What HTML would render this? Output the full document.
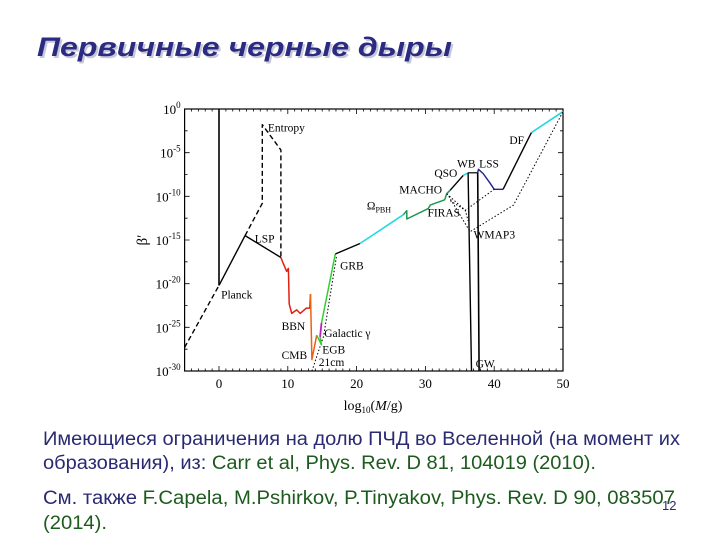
<!DOCTYPE html>
<html><head><meta charset="utf-8"><style>
html,body{margin:0;padding:0;background:#fff;width:720px;height:540px;overflow:hidden}
svg{display:block}
</style></head><body>
<svg id="s" width="720" height="540" viewBox="0 0 720 540" xmlns="http://www.w3.org/2000/svg">
<text x="39" y="58" font-family="Liberation Sans, sans-serif" font-size="27" font-weight="bold" font-style="italic" fill="#c8c8d8" textLength="415" lengthAdjust="spacingAndGlyphs">Первичные черные дыры</text>
<text x="37" y="56" font-family="Liberation Sans, sans-serif" font-size="27" font-weight="bold" font-style="italic" fill="#2b2b82" textLength="415" lengthAdjust="spacingAndGlyphs">Первичные черные дыры</text>
<g id="chart"></g>
<g font-family="Liberation Sans, sans-serif" font-size="19" fill="#2a2a72">
<text x="43" y="445" textLength="637" lengthAdjust="spacingAndGlyphs">Имеющиеся ограничения на долю ПЧД во Вселенной (на момент их</text>
<text x="43" y="469" textLength="553" lengthAdjust="spacingAndGlyphs">образования), из: <tspan fill="#1d5a1d">Carr et al, Phys. Rev. D 81, 104019 (2010).</tspan></text>
<text x="43" y="504" textLength="632" lengthAdjust="spacingAndGlyphs">См. также <tspan fill="#1d5a1d">F.Capela, M.Pshirkov, P.Tinyakov, Phys. Rev. D 90, 083507</tspan></text>
<text x="43" y="529" textLength="64" lengthAdjust="spacingAndGlyphs" fill="#1d5a1d">(2014).</text>
</g>
<text x="662" y="510" font-family="Liberation Sans, sans-serif" font-size="13" fill="#2a2a72">12</text>
</svg>
<script>
const xTicks=[0,10,20,30,40,50];
const yTicks=[0,-5,-10,-15,-20,-25,-30];
const planckX=[0,0]; const planckY=[0,-20.2];
const planckDashX=[-5,0]; const planckDashY=[-27.3,-20.2];
const planckSolidX=[0,3.8]; const planckSolidY=[-20.2,-14.5];
const entropyX=[3.8,6.3,6.3,9.0,9.0]; const entropyY=[-14.5,-10.8,-1.8,-4.7,-17];
const lspX=[3.8,9.0]; const lspY=[-14.5,-17];
const bbnX=[9.0,9.35,9.84,10.08,10.2,10.56,11.3,11.8,12.7,13.2,13.3]; const bbnY=[-17,-17.7,-18.6,-18.25,-22.3,-23.4,-23.0,-23.4,-22.8,-22.8,-21.2];
const cmbX=[13.3,13.5,14.2]; const cmbY=[-21.2,-28.7,-25.9];
const egbX=[14.2,14.9,14.7]; const egbY=[-25.9,-27,-26.1];
const galX=[14.7,14.9]; const galY=[-26.1,-24.5];
const grbX=[14.9,16.9]; const grbY=[-24.5,-16.6];
const dot21X=[13.5,15.2,17.1]; const dot21Y=[-30,-26,-16.8];
const blackAX=[16.9,20.5]; const blackAY=[-16.6,-15.4];
const omegaX=[20.5,26.8]; const omegaY=[-15.4,-12.1];
const machoX=[26.8,27.3,27.3,30.4,30.7,32.8,33.1,33.6]; const machoY=[-12.1,-11.65,-12.6,-11.4,-11,-10.4,-9.7,-9.3];
const qsoX=[33.6,35.5]; const qsoY=[-9.3,-7.6];
const wbX=[35.5,36.2]; const wbY=[-7.6,-7.3];
const gw1X=[36.2,36.7]; const gw1Y=[-7.3,-30];
const gwTopX=[36.2,37.7]; const gwTopY=[-7.3,-7.3];
const gw2X=[37.6,37.8]; const gw2Y=[-7.3,-30];
const lssX=[37.6,37.7,38.4,39.4,40.0,41.3]; const lssY=[-7.3,-6.9,-7.4,-8.5,-9.2,-9.2];
const dfX=[41.3,45.4]; const dfY=[-9.2,-2.7];
const dfCyanX=[45.4,50]; const dfCyanY=[-2.7,-0.3];
const firasX=[33.1,35.8,36.2]; const firasY=[-9.7,-11.6,-12.8];
const firas2X=[33.6,35.8,40.0]; const firas2Y=[-10.5,-11.6,-9.2];
const wmapX=[33.4,36.5,42.8,50]; const wmapY=[-10,-14.05,-11,-0.3];
const labels=["Entropy","LSP","Planck","BBN","CMB","21cm","EGB","Galactic γ","GRB","QSO","MACHO","FIRAS","WMAP3","WB","LSS","DF","GW"];
const labelX=[7.1,5.2,0.3,9.1,9.1,14.5,15.0,15.3,17.6,31.3,26.2,30.3,37.0,34.6,37.8,42.2,37.3];
const labelY=[-2.6,-15.3,-21.7,-25.3,-28.6,-29.4,-28.0,-26.1,-18.4,-7.8,-9.7,-12.3,-14.8,-6.7,-6.7,-4.0,-29.6];

const L=184.6,R=563,T=109,B=371;
const X=v=>L+(v+5)*(R-L)/55, Y=v=>T-v*(B-T)/30;
const g=document.getElementById('chart');
const NS='http://www.w3.org/2000/svg';
function el(t,a,p){const e=document.createElementNS(NS,t);for(const k in a)e.setAttribute(k,a[k]);(p||g).appendChild(e);return e;}
const box=el('rect',{x:L,y:T,width:R-L,height:B-T,fill:'none',stroke:'#000','stroke-width':1.2});


let tk='';
for(let v=-5;v<=50;v++){const len=v%10===0?5:2.5;tk+=`M${X(v)} ${B}v${-len}M${X(v)} ${T}v${len}`;}
for(let v=0;v>=-30;v-=2.5){const len=v%5===0?5:3;tk+=`M${L} ${Y(v)}h${len}M${R} ${Y(v)}h${-len}`;}
const tp=el('path',{d:tk,stroke:'#000','stroke-width':0.8,fill:'none'});


xTicks.forEach(v=>{const t=el('text',{x:X(v),y:B+17,'text-anchor':'middle','font-family':'Liberation Serif, serif','font-size':13});t.textContent=v;

});
yTicks.forEach(v=>{const t=el('text',{x:L-4,y:Y(v)+5,'text-anchor':'end','font-family':'Liberation Serif, serif','font-size':13});


const a=el('tspan',{},t);a.textContent='10';const b=el('tspan',{dy:-6,'font-size':9},t);b.textContent=String(v);});
const xl=el('text',{x:373,y:410,'text-anchor':'middle','font-family':'Liberation Serif, serif','font-size':14});


xl.innerHTML='log<tspan font-size="9" dy="3">10</tspan><tspan dy="-3">(</tspan><tspan font-style="italic">M</tspan>/g)';
const yl=el('text',{x:147,y:240,'text-anchor':'middle','font-family':'Liberation Serif, serif','font-size':15,transform:'rotate(-90 147 240)'});


yl.textContent='β′';
function line(xs,ys,col,w,dash,name){const d=xs.map((v,i)=>(i?'L':'M')+X(v).toFixed(1)+' '+Y(ys[i]).toFixed(1)).join('');
const p=el('path',{d:d,stroke:col,'stroke-width':w,fill:'none','stroke-dasharray':dash||'none','stroke-linejoin':'round'});

}
line(planckX,planckY,'#000',1.6,null,'planck-vertical');
line(planckDashX,planckDashY,'#000',1.4,'5 3','planck-dashed');
line(planckSolidX,planckSolidY,'#000',1.4,null,'planck-line');
line(entropyX,entropyY,'#000',1.4,'5 3','entropy-line');
line(lspX,lspY,'#000',1.4,null,'lsp-line');
line(bbnX,bbnY,'#e02010',1.5,null,'bbn-line');
line(cmbX,cmbY,'#f06010',1.5,null,'cmb-line');
line(dot21X,dot21Y,'#000',1,'1.5 2','21cm-dotted');
line(egbX,egbY,'#30d030',1.5,null,'egb-line');
line(galX,galY,'#c020c0',1.8,null,'galactic-line');
line(grbX,grbY,'#30d030',1.5,null,'grb-line');
line(blackAX,blackAY,'#000',1.4,null,'grb-black-line');
line(omegaX,omegaY,'#20d8e0',1.6,null,'omega-pbh-line');
line(machoX,machoY,'#209850',1.5,null,'macho-line');
line(qsoX,qsoY,'#000',1.4,null,'qso-line');
line(wbX,wbY,'#20d8e0',1.6,null,'wb-line');
line(gw1X,gw1Y,'#000',1.4,null,'gw-line-1');
line(gwTopX,gwTopY,'#000',1.2,null,'gw-top');
line(gw2X,gw2Y,'#000',1.6,null,'gw-line-2');
line(lssX,lssY,'#202090',1.4,null,'lss-line');
line(dfX,dfY,'#000',1.4,null,'df-line');
line(dfCyanX,dfCyanY,'#20d8e0',1.6,null,'df-cyan-line');
line(firasX,firasY,'#000',1,'1.5 2','firas-dotted');
line(firas2X,firas2Y,'#000',1,'1.5 2','firas-dotted-2');
line(wmapX,wmapY,'#000',1,'1.5 2','wmap3-dotted');
labels.forEach((s,i)=>{const t=el('text',{x:X(labelX[i]),y:Y(labelY[i]),'font-family':'Liberation Serif, serif','font-size':11.5});


t.textContent=s;});
const om=el('text',{x:X(21.5),y:Y(-11.5),'font-family':'Liberation Serif, serif','font-size':11.5});


om.innerHTML='Ω<tspan font-size="8" dy="3">PBH</tspan>';
</script>
</body></html>
